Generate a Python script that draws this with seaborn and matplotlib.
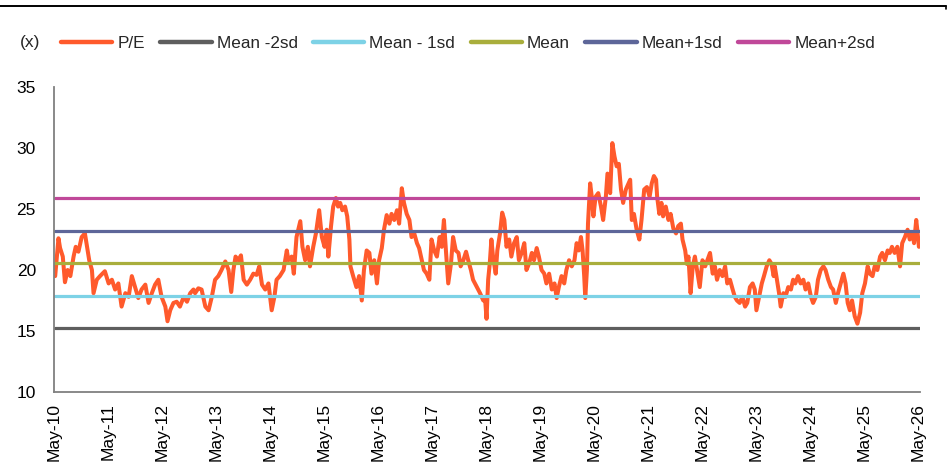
import numpy as np
import pandas as pd
import matplotlib
matplotlib.use("Agg")
import matplotlib.pyplot as plt
import matplotlib.dates as mdates
from matplotlib.lines import Line2D
import seaborn as sns

# Forward P/E history (decimal year, multiple)
pe_years = [
    2010.389, 2010.45, 2010.48, 2010.53, 2010.57, 2010.62, 2010.67, 2010.73, 2010.77, 2010.82,
    2010.88, 2010.94, 2010.98, 2011.02, 2011.07, 2011.10, 2011.16, 2011.22, 2011.31, 2011.38,
    2011.44, 2011.50, 2011.56, 2011.62, 2011.69, 2011.75, 2011.81, 2011.87, 2011.93, 2011.99,
    2012.06, 2012.12, 2012.18, 2012.24, 2012.30, 2012.36, 2012.43, 2012.47, 2012.52, 2012.58,
    2012.64, 2012.70, 2012.77, 2012.83, 2012.89, 2012.95,
    2012.98, 2013.04, 2013.10, 2013.17, 2013.23, 2013.29, 2013.35, 2013.41, 2013.47, 2013.54,
    2013.60, 2013.65, 2013.69, 2013.73, 2013.78, 2013.83, 2013.88, 2013.94, 2014.00, 2014.06,
    2014.12, 2014.17, 2014.22, 2014.28, 2014.34, 2014.40, 2014.45, 2014.49, 2014.55, 2014.62,
    2014.68, 2014.71, 2014.77, 2014.81, 2014.86, 2014.93, 2014.97, 2015.02, 2015.07, 2015.11,
    2015.17, 2015.22, 2015.28, 2015.33, 2015.38, 2015.42, 2015.45, 2015.50, 2015.54, 2015.59,
    2015.63,
    2015.67, 2015.71, 2015.76, 2015.80, 2015.84, 2015.86, 2015.91, 2015.97, 2016.02, 2016.07,
    2016.11, 2016.16, 2016.21, 2016.25, 2016.30, 2016.35, 2016.39, 2016.44, 2016.48, 2016.53,
    2016.58, 2016.62, 2016.67, 2016.72, 2016.76, 2016.81, 2016.85, 2016.90, 2016.95, 2016.99,
    2017.04, 2017.09, 2017.13, 2017.18, 2017.22, 2017.27, 2017.32, 2017.36, 2017.41, 2017.46,
    2017.51, 2017.55, 2017.59, 2017.63, 2017.67, 2017.72, 2017.76, 2017.81, 2017.86, 2017.90,
    2017.95, 2018.00, 2018.04, 2018.09, 2018.13, 2018.20, 2018.26, 2018.32,
    2018.35, 2018.38, 2018.41, 2018.44, 2018.47, 2018.50, 2018.55, 2018.58, 2018.63, 2018.67,
    2018.71, 2018.75, 2018.80, 2018.84, 2018.89, 2018.94, 2018.98, 2019.03, 2019.08, 2019.12,
    2019.17, 2019.22, 2019.26, 2019.31, 2019.35, 2019.40, 2019.45, 2019.49, 2019.54, 2019.59,
    2019.64, 2019.68, 2019.72, 2019.77, 2019.82, 2019.86, 2019.91, 2019.96, 2020.01, 2020.05,
    2020.09, 2020.13, 2020.16, 2020.19, 2020.21, 2020.24, 2020.26, 2020.30, 2020.33, 2020.36,
    2020.40, 2020.45, 2020.50, 2020.54, 2020.59, 2020.62, 2020.67, 2020.71, 2020.75, 2020.79,
    2020.83, 2020.87, 2020.91, 2020.96, 2021.01,
    2021.04, 2021.07, 2021.11, 2021.16, 2021.21, 2021.25, 2021.30, 2021.35, 2021.40, 2021.44,
    2021.48, 2021.52, 2021.54, 2021.58, 2021.62, 2021.65, 2021.70, 2021.75, 2021.79, 2021.84,
    2021.89, 2021.93, 2021.98, 2022.01, 2022.06, 2022.09, 2022.12, 2022.16, 2022.20, 2022.24,
    2022.28, 2022.33, 2022.38, 2022.43, 2022.47, 2022.52, 2022.57, 2022.61, 2022.65, 2022.70,
    2022.75, 2022.80, 2022.84, 2022.89, 2022.94, 2022.98, 2023.02, 2023.07, 2023.12, 2023.17,
    2023.21, 2023.26, 2023.31, 2023.35, 2023.38, 2023.43, 2023.48, 2023.52, 2023.57, 2023.62,
    2023.66, 2023.70,
    2023.72, 2023.75, 2023.80, 2023.83, 2023.88, 2023.92, 2023.97, 2024.02, 2024.06, 2024.10,
    2024.15, 2024.20, 2024.25, 2024.29, 2024.34, 2024.39, 2024.43, 2024.48, 2024.52, 2024.57,
    2024.62, 2024.66, 2024.71, 2024.76, 2024.80, 2024.85, 2024.89, 2024.94, 2024.99, 2025.03,
    2025.07, 2025.11, 2025.15, 2025.20, 2025.25, 2025.30, 2025.34, 2025.39, 2025.44, 2025.48,
    2025.53, 2025.57, 2025.62, 2025.67, 2025.71, 2025.76, 2025.81, 2025.85, 2025.89, 2025.94,
    2025.99, 2026.04, 2026.08, 2026.13, 2026.18, 2026.22, 2026.27, 2026.30, 2026.34, 2026.36,
    2026.39, 2026.41,
]
pe_values = [
    19.5, 22.6, 21.8, 21.1, 19.0, 20.0, 19.5, 21.1, 21.9, 21.5,
    22.7, 23.0, 21.9, 20.8, 20.0, 18.1, 19.2, 19.5, 19.9, 18.9,
    19.2, 18.4, 18.9, 17.0, 18.1, 17.8, 19.5, 18.6, 17.7, 18.4,
    18.8, 17.3, 18.1, 18.8, 19.2, 17.8, 17.0, 15.8, 16.7, 17.3,
    17.4, 17.0, 17.8, 17.4, 18.1, 18.4,
    18.1, 18.5, 18.4, 17.0, 16.7, 17.8, 19.2, 19.5, 20.0, 20.7,
    20.0, 18.2, 20.0, 21.1, 20.8, 21.2, 19.2, 18.8, 19.2, 19.7,
    19.6, 20.3, 18.8, 18.4, 18.9, 16.7, 17.8, 19.2, 19.5, 20.0,
    21.6, 20.8, 21.1, 19.7, 22.7, 24.0, 21.9, 20.8, 21.9, 20.3,
    21.9, 23.0, 24.9, 22.7, 21.9, 23.3, 21.1, 23.6, 25.2, 25.9,
    25.2,
    25.5, 24.9, 25.2, 24.4, 22.5, 20.3, 19.5, 18.6, 19.5, 17.5,
    20.0, 21.6, 21.4, 19.7, 20.8, 18.9, 20.8, 21.8, 23.3, 24.5,
    23.8, 24.6, 24.1, 24.9, 23.8, 26.7, 25.5, 24.6, 24.1, 22.7,
    23.0, 22.2, 21.8, 20.8, 20.0, 19.7, 19.2, 22.5, 21.6, 21.1,
    22.7, 21.9, 24.1, 21.4, 18.9, 20.5, 22.7, 21.6, 21.4, 20.3,
    20.8, 21.5, 20.8, 20.0, 19.2, 18.6, 18.1, 17.5,
    17.8, 16.0, 19.2, 20.55, 22.5, 21.1, 19.7, 21.6, 23.0, 24.7,
    24.1, 21.9, 22.5, 21.1, 22.2, 22.7, 20.8, 21.4, 22.2, 20.0,
    20.55, 21.4, 20.8, 21.8, 21.1, 20.0, 19.7, 18.9, 19.7, 18.4,
    18.9, 17.7, 18.6, 19.5, 18.9, 20.0, 20.8, 20.3, 20.8, 22.2,
    21.6, 22.7, 21.6, 19.5, 17.7, 20.0, 23.8, 27.1, 26.0, 24.4,
    26.0, 26.3, 25.2, 24.1, 26.0, 27.9, 26.3, 30.4, 29.3, 28.5,
    28.7, 26.6, 25.5, 26.6, 27.1,
    27.4, 24.1, 24.6, 23.3, 22.5, 24.1, 26.6, 26.8, 26.0, 27.1,
    27.7, 27.4, 26.0, 24.6, 25.5, 24.4, 25.2, 24.1, 24.6, 23.4,
    23.0, 23.6, 23.8, 22.5, 21.6, 20.5, 21.1, 18.1, 20.3, 21.1,
    20.0, 18.6, 20.8, 20.3, 20.8, 21.4, 19.7, 20.3, 19.2, 20.0,
    19.5, 20.3, 18.9, 19.2, 18.4, 17.8, 17.5, 17.3, 17.8, 17.0,
    17.3, 18.6, 18.9, 18.4, 16.7, 17.8, 18.9, 19.5, 20.3, 20.8,
    20.5, 19.5,
    20.3, 19.5, 18.1, 17.0, 18.1, 17.8, 18.6, 18.4, 19.2, 18.9,
    19.5, 18.9, 19.2, 18.4, 18.9, 17.8, 17.3, 17.8, 19.2, 20.0,
    20.3, 20.0, 19.2, 18.6, 18.4, 17.3, 18.1, 18.9, 19.7, 18.9,
    17.3, 16.7, 17.5, 16.2, 15.6, 16.5, 18.1, 18.9, 20.3, 19.7,
    19.5, 20.3, 20.0, 21.1, 21.4, 20.8, 21.6, 21.4, 21.9, 21.4,
    21.9, 20.3, 22.2, 22.7, 23.3, 22.5, 23.0, 22.2, 24.1, 23.3,
    21.9, 22.5,
]

# Valuation bands: mean and +/- 1, 2 standard deviations
band_names = ["Mean -2sd", "Mean - 1sd", "Mean", "Mean+1sd", "Mean+2sd"]
band_levels = [15.25, 17.9, 20.55, 23.2, 25.87]

series_order = ["P/E"] + band_names
series_colors = ["#FF5A2C", "#5E5E5E", "#7DD2E6", "#A9AE3C", "#5D6699", "#C04899"]
series_widths = [2.9, 2.3, 2.3, 2.3, 2.3, 2.3]

x_tick_years = list(range(2010, 2027))


def to_date(y):
    year = int(np.floor(y))
    start = pd.Timestamp(year=year, month=1, day=1)
    end = pd.Timestamp(year=year + 1, month=1, day=1)
    return start + (end - start) * (y - year)


dates = [to_date(y) for y in pe_years]

frames = [pd.DataFrame({"date": dates, "value": pe_values, "series": "P/E"})]
for name, level in zip(band_names, band_levels):
    frames.append(pd.DataFrame({"date": [dates[0], dates[-1]],
                                "value": [level, level], "series": name}))
df = pd.concat(frames, ignore_index=True)

sns.set_theme(style="white")
plt.rcParams["font.family"] = ["Liberation Sans", "DejaVu Sans"]

W, H = 949, 463
fig = plt.figure(figsize=(W / 100, H / 100), dpi=100)
ax = fig.add_axes([54 / W, 1 - 392 / H, (920 - 54) / W, 305 / H])

sns.lineplot(data=df, x="date", y="value", hue="series", hue_order=series_order,
             palette=dict(zip(series_order, series_colors)), linewidth=2.3,
             estimator=None, sort=False, legend=False, ax=ax)
for line, lw in zip(ax.get_lines(), series_widths):
    line.set_linewidth(lw)
    line.set_solid_joinstyle("round")

handles = [Line2D([], [], color=c, linewidth=3.2) for c in series_colors]
fig.legend(handles, series_order, loc="center left",
           bbox_to_anchor=(61 / W, 1 - 43 / H), ncol=6, frameon=False,
           fontsize=12.3, handlelength=3.0, handletextpad=0.3,
           columnspacing=0.9, borderpad=0, borderaxespad=0)
fig.text(20 / W, 1 - 43 / H, "(x)", fontsize=12.5, va="center", ha="left")

ax.set_ylim(10, 35)
ax.set_yticks(range(10, 36, 5))
ax.set_xlim(to_date(2010.37), dates[-1])
ticks = [pd.Timestamp(year=y, month=5, day=15) for y in x_tick_years]
ax.set_xticks(ticks)
ax.xaxis.set_major_formatter(mdates.DateFormatter("%b-%y"))
ax.set_xlabel("")
ax.set_ylabel("")

for side in ["top", "right"]:
    ax.spines[side].set_visible(False)
for side in ["left", "bottom"]:
    ax.spines[side].set_color("#808080")
    ax.spines[side].set_linewidth(1.3)
ax.tick_params(axis="both", which="major", direction="out", length=5, width=1.2,
               color="#808080", labelsize=12.5, labelcolor="black")
ax.tick_params(axis="y", pad=8)
ax.tick_params(axis="x", pad=3, labelrotation=90)

# Rule along the top of the figure
fig.add_artist(Line2D([0, 946 / W], [1 - 6 / H, 1 - 6 / H], color="black",
                      linewidth=1.4, transform=fig.transFigure))
fig.add_artist(Line2D([946 / W, 946 / W], [1 - 6 / H, 1 - 9 / H], color="black",
                      linewidth=1.2, transform=fig.transFigure))

fig.savefig("out.png", dpi=100)
